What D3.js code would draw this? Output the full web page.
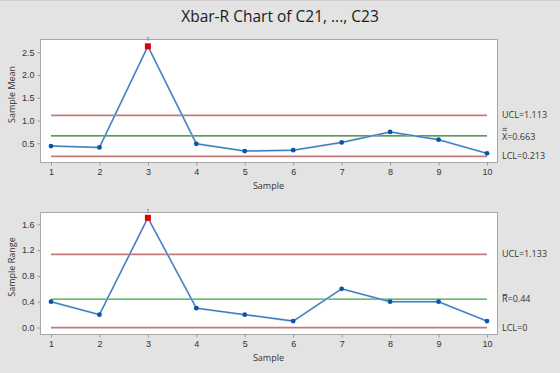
<!DOCTYPE html>
<meta charset="utf-8">
<style>
body { margin: 0; background: #e3e3e3; }
svg { display: block; font-family: "Open Sans", "Noto Sans", sans-serif; }
.tick text { font-size: 9px; fill: #333; }
.tick line, .domain { stroke: #999; }
</style>
<svg width="560" height="373"></svg>
<script src="https://d3js.org/d3.v7.min.js"></script>
<script>

var samples = [1, 2, 3, 4, 5, 6, 7, 8, 9, 10];
var means = [0.44, 0.41, 2.63, 0.49, 0.33, 0.35, 0.52, 0.75, 0.58, 0.28];
var ranges = [0.4, 0.2, 1.7, 0.3, 0.2, 0.1, 0.6, 0.4, 0.4, 0.1];
var meanLimits = [1.113, 0.663, 0.213];   // UCL, center, LCL
var rangeLimits = [1.133, 0.44, 0];
var meanTicks = [0.5, 1.0, 1.5, 2.0, 2.5];
var rangeTicks = [0.0, 0.4, 0.8, 1.2, 1.6];
var outOfControl = [3];

var svg = d3.select("svg");

svg.append("text")
	.attr("x", 280).attr("y", 22)
	.attr("text-anchor", "middle")
	.attr("font-size", 15.5)
	.attr("fill", "#1a1a1a")
	.text("Xbar-R Chart of C21, ..., C23");

svg.append("line")
	.attr("x1", 0).attr("x2", 560)
	.attr("y1", 0.5).attr("y2", 0.5)
	.attr("stroke", "#d0d0d0");

var x = d3.scaleLinear().domain([1, 10]).range([51, 487]);

function panel(opts) {
	var y = d3.scaleLinear().domain(opts.domain).range([opts.bottom, opts.top]);
	var g = svg.append("g");

	g.append("rect")
		.attr("x", 40.5).attr("y", opts.top + 0.5)
		.attr("width", 457).attr("height", opts.bottom - opts.top)
		.attr("fill", "#fff")
		.attr("stroke", "#a8a8a8");

	g.append("g")
		.attr("transform", "translate(40.5,0)")
		.call(d3.axisLeft(y).tickValues(opts.ticks).tickSize(3).tickPadding(3)
			.tickFormat(d3.format(opts.fmt)))
		.call(function(a) { a.select(".domain").remove(); });

	g.append("g")
		.attr("transform", "translate(0," + (opts.bottom + 0.5) + ")")
		.call(d3.axisBottom(x).tickValues(samples).tickSize(3).tickPadding(3)
			.tickFormat(d3.format("d")))
		.call(function(a) { a.select(".domain").remove(); });

	g.append("text")
		.attr("x", 268.5).attr("y", opts.bottom + 27)
		.attr("text-anchor", "middle")
		.attr("font-size", 9).attr("fill", "#333")
		.text("Sample");

	g.append("text")
		.attr("transform", "translate(15," + ((opts.top + opts.bottom) / 2 - 6) + ") rotate(-90)")
		.attr("text-anchor", "middle")
		.attr("font-size", 9).attr("fill", "#333")
		.text(opts.ylabel);

	// control limits
	var lim = opts.limits;
	[0, 2].forEach(function(i) {
		g.append("line")
			.attr("x1", x(1)).attr("x2", x(10))
			.attr("y1", y(lim[i])).attr("y2", y(lim[i]))
			.attr("stroke", "#c47a7a").attr("stroke-width", 1.8);
	});
	g.append("line")
		.attr("x1", x(1)).attr("x2", x(10))
		.attr("y1", y(lim[1])).attr("y2", y(lim[1]))
		.attr("stroke", opts.clColor).attr("stroke-width", 1.2);

	var pts = opts.values.map(function(v, i) { return {s: samples[i], v: v}; });

	var line = d3.line()
		.x(function(d) { return x(d.s); })
		.y(function(d) { return y(d.v); });

	g.append("path")
		.attr("d", line(pts))
		.attr("fill", "none")
		.attr("stroke", "#94b8e0").attr("stroke-width", 2);
	g.append("path")
		.attr("d", line(pts))
		.attr("fill", "none")
		.attr("stroke", "#1d5fae").attr("stroke-width", 0.8);

	g.selectAll("circle")
		.data(pts.filter(function(d) { return outOfControl.indexOf(d.s) < 0; }))
		.enter().append("circle")
			.attr("cx", function(d) { return x(d.s); })
			.attr("cy", function(d) { return y(d.v); })
			.attr("r", 2.4)
			.attr("fill", "#0b55a6");

	pts.filter(function(d) { return outOfControl.indexOf(d.s) >= 0; }).forEach(function(d) {
		g.append("rect")
			.attr("x", x(d.s) - 3).attr("y", y(d.v) - 3)
			.attr("width", 6).attr("height", 6)
			.attr("fill", "#e00000");
		g.append("text")
			.attr("x", x(d.s)).attr("y", y(d.v) - 5)
			.attr("text-anchor", "middle")
			.attr("font-size", 6).attr("fill", "#555")
			.text("1");
	});

	// limit labels
	var lx = 502;
	g.append("text").attr("x", lx).attr("y", y(lim[0]) + 3)
		.attr("font-size", 9).attr("fill", "#333").text("UCL=" + lim[0]);
	g.append("text").attr("x", lx).attr("y", y(lim[2]) + 3)
		.attr("font-size", 9).attr("fill", "#333").text("LCL=" + lim[2]);
	opts.clLabel(g, lx, y(lim[1]));

	return y;
}

panel({
	top: 39, bottom: 162, domain: [0.09, 2.79],
	ticks: meanTicks, fmt: ".1f", ylabel: "Sample Mean",
	values: means, limits: meanLimits, clColor: "#237a23",
	clLabel: function(g, lx, cy) {
		g.append("line").attr("x1", lx + 0.5).attr("x2", lx + 5)
			.attr("y1", cy - 7.5).attr("y2", cy - 7.5)
			.attr("stroke", "#333").attr("stroke-width", 0.7);
		g.append("line").attr("x1", lx + 0.5).attr("x2", lx + 5)
			.attr("y1", cy - 5.5).attr("y2", cy - 5.5)
			.attr("stroke", "#333").attr("stroke-width", 0.7);
		g.append("text").attr("x", lx).attr("y", cy + 4)
			.attr("font-size", 9).attr("fill", "#333").text("X=" + meanLimits[1]);
	}
});

panel({
	top: 212, bottom: 334, domain: [-0.1, 1.79],
	ticks: rangeTicks, fmt: ".1f", ylabel: "Sample Range",
	values: ranges, limits: rangeLimits, clColor: "#3aa83a",
	clLabel: function(g, lx, cy) {
		g.append("line").attr("x1", lx + 0.5).attr("x2", lx + 5.5)
			.attr("y1", cy - 4.5).attr("y2", cy - 4.5)
			.attr("stroke", "#333").attr("stroke-width", 0.8);
		g.append("text").attr("x", lx).attr("y", cy + 3)
			.attr("font-size", 9).attr("fill", "#333").text("R=" + rangeLimits[1]);
	}
});

</script>
